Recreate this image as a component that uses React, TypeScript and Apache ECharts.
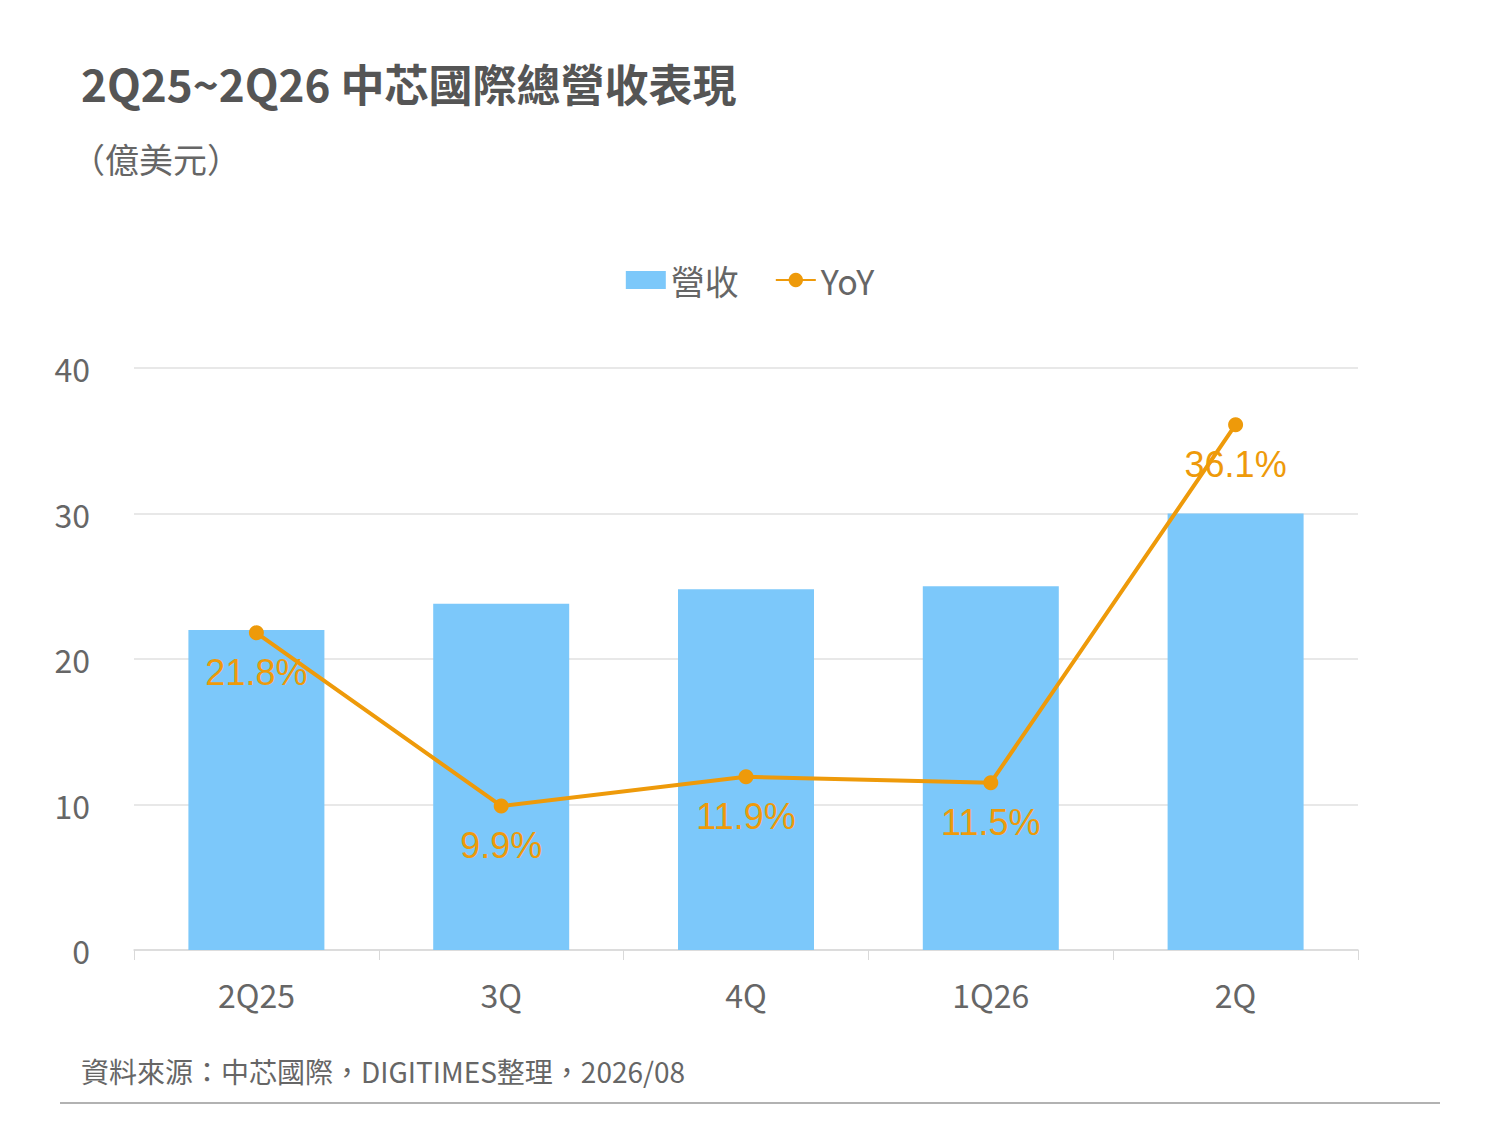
import React, { useEffect, useRef } from "react";
import * as echarts from "echarts";

const categories = ["2Q25", "3Q", "4Q", "1Q26", "2Q"];
const revenue = [22.0, 23.8, 24.8, 25.0, 30.0];
const yoy = [21.8, 9.9, 11.9, 11.5, 36.1];

const FONT = "'Noto Sans CJK TC', 'Liberation Sans', sans-serif";
const GRAY = "#666666";

const App: React.FC = () => {
  const chartRef = useRef<HTMLDivElement>(null);

  useEffect(() => {
    if (!chartRef.current) return;
    const chart = echarts.init(chartRef.current, undefined, { renderer: "svg" });
    chart.setOption({
      animation: false,
      backgroundColor: "#ffffff",
      textStyle: { fontFamily: FONT },
      title: [
        {
          text: "2Q25~2Q26 中芯國際總營收表現",
          left: 76,
          top: 56,
          textStyle: { fontSize: 44, fontWeight: "bold", color: "#555555", fontFamily: FONT },
        },
        {
          text: "（億美元）",
          left: 66,
          top: 136,
          textStyle: { fontSize: 34, fontWeight: "normal", color: GRAY, fontFamily: FONT },
        },
        {
          text: "資料來源：中芯國際，DIGITIMES整理，2026/08",
          left: 76,
          top: 1052,
          textStyle: { fontSize: 28, fontWeight: "normal", color: GRAY, fontFamily: FONT },
        },
      ],
      legend: {
        top: 258,
        left: "center",
        itemGap: 36,
        itemWidth: 40,
        itemHeight: 18,
        textStyle: { fontSize: 34, color: GRAY, fontFamily: FONT },
        data: [
          { name: "營收", icon: "rect" },
          { name: "YoY" },
        ],
      },
      graphic: [
        {
          type: "line",
          shape: { x1: 60, y1: 1103, x2: 1440, y2: 1103 },
          style: { stroke: "#999999", lineWidth: 1.5 },
        },
      ],
      grid: { left: 134, right: 142, top: 368, bottom: 175 },
      xAxis: {
        type: "category",
        data: categories,
        axisLine: { lineStyle: { color: "#d9d9d9", width: 1.5 } },
        axisTick: { show: true, length: 10, lineStyle: { color: "#d9d9d9" } },
        axisLabel: { fontSize: 32, color: GRAY, margin: 28, fontFamily: FONT },
      },
      yAxis: {
        type: "value",
        min: 0,
        max: 40,
        interval: 10,
        axisLine: { show: false },
        axisTick: { show: false },
        splitLine: { lineStyle: { color: "#e0e0e0", width: 1.5 } },
        axisLabel: { fontSize: 32, color: GRAY, margin: 44, fontFamily: FONT },
      },
      series: [
        {
          name: "營收",
          type: "bar",
          data: revenue,
          barWidth: 136,
          itemStyle: { color: "#7cc8fa" },
        },
        {
          name: "YoY",
          type: "line",
          data: yoy,
          symbol: "circle",
          symbolSize: 15,
          lineStyle: { color: "#ee9a0a", width: 4 },
          itemStyle: { color: "#ee9a0a" },
          label: {
            show: true,
            position: "bottom",
            distance: 14,
            fontSize: 36,
            color: "#ee9a0a",
            fontFamily: "'Liberation Sans', sans-serif",
            formatter: (p: any) => `${p.value}%`,
          },
        },
      ],
    });
    return () => chart.dispose();
  }, []);

  return (
    <div
      ref={chartRef}
      style={{ position: "fixed", left: 0, top: 0, width: "1500px", height: "1125px" }}
    ></div>
  );
};

export default App;
